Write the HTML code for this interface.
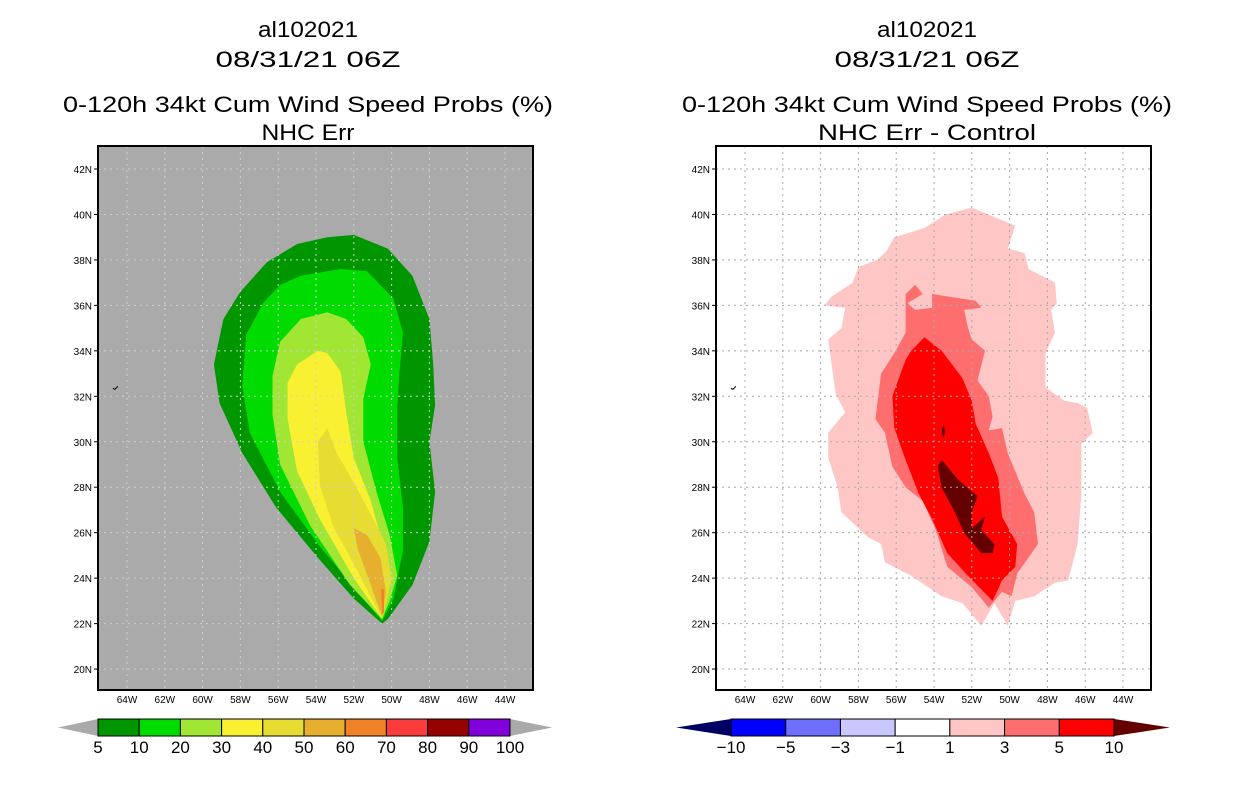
<!DOCTYPE html>
<html><head><meta charset="utf-8"><style>
html,body{margin:0;padding:0;background:#fff;}
svg{display:block;font-family:"Liberation Sans",sans-serif;}
</style></head><body>
<svg id="root" width="1236" height="800" viewBox="0 0 1236 800" xmlns="http://www.w3.org/2000/svg">
<g id="titles" font-size="22" text-anchor="middle" fill="#000">
<text x="308" y="37" textLength="100" lengthAdjust="spacingAndGlyphs">al102021</text>
<text x="308" y="67" textLength="185" lengthAdjust="spacingAndGlyphs">08/31/21 06Z</text>
<text x="308" y="112" textLength="490" lengthAdjust="spacingAndGlyphs">0-120h 34kt Cum Wind Speed Probs (%)</text>
<text x="308" y="140" textLength="93" lengthAdjust="spacingAndGlyphs">NHC Err</text>
<text x="927" y="37" textLength="100" lengthAdjust="spacingAndGlyphs">al102021</text>
<text x="927" y="67" textLength="185" lengthAdjust="spacingAndGlyphs">08/31/21 06Z</text>
<text x="927" y="112" textLength="490" lengthAdjust="spacingAndGlyphs">0-120h 34kt Cum Wind Speed Probs (%)</text>
<text x="927" y="140" textLength="218" lengthAdjust="spacingAndGlyphs">NHC Err - Control</text>
</g>
<g id="left"></g>
<g id="right"></g>
<g id="cbars"></g>
</svg>
<script>
// ---- data (lon in degrees W, lat in degrees N) ----
const latTicks = [20,22,24,26,28,30,32,34,36,38,40,42];
const lonTicks = [64,62,60,58,56,54,52,50,48,46,44];
const leftLevels = ["5","10","20","30","40","50","60"];
const leftColors = ["#009600","#00dc00","#a0e632","#faf032","#e6dc32","#e6af2d","#f08228"];
const leftP5 = [[52.0,39.1],[50.2,38.5],[48.9,37.3],[48.0,35.4],[47.8,33.4],[47.7,31.6],[48.0,30.0],[47.7,27.8],[48.0,25.6],[48.9,23.7],[50.2,22.2],[50.5,22.0],[52.0,23.1],[53.9,24.9],[56.1,27.1],[57.9,29.5],[59.1,31.7],[59.4,33.4],[58.9,35.4],[58.0,36.6],[56.6,37.9],[55.0,38.7],[53.4,39.0]];
const leftP10 = [[54.8,37.3],[52.7,37.6],[51.3,37.5],[49.9,36.3],[49.4,34.8],[49.6,32.9],[49.7,31.5],[49.7,29.3],[49.4,27.1],[49.4,25.2],[49.9,23.1],[50.5,22.1],[51.8,23.4],[53.9,25.5],[55.9,27.8],[57.5,30.4],[57.9,32.5],[57.7,34.7],[56.8,36.1],[55.9,36.9]];
const leftP20 = [[54.8,35.4],[53.4,35.7],[52.4,35.4],[51.5,34.6],[51.1,33.4],[51.5,31.9],[51.5,30.0],[50.8,27.8],[50.1,25.9],[49.7,24.1],[50.1,23.0],[50.5,22.2],[52.2,23.7],[54.3,26.3],[55.9,29.0],[56.3,31.2],[56.3,32.9],[55.9,34.4]];
const leftP30 = [[53.9,34.0],[53.4,33.9],[52.7,33.1],[52.4,31.3],[52.0,29.3],[51.1,27.4],[50.5,25.6],[50.0,24.0],[50.5,22.2],[52.0,24.0],[53.8,26.6],[55.0,28.7],[55.5,31.0],[55.5,32.6],[55.0,33.4]];
const leftP40 = [[53.4,30.6],[52.9,29.5],[52.0,28.2],[51.1,26.8],[50.3,25.5],[50.0,24.0],[50.5,22.2],[51.8,24.3],[53.1,26.3],[53.8,28.1],[53.9,30.0]];
const leftP50 = [[52.0,26.2],[51.3,25.9],[50.6,24.9],[50.3,23.4],[50.5,22.3],[51.1,23.7],[51.8,25.3]];
const leftP60 = [[50.55,23.5],[50.4,23.5],[50.4,22.5],[50.5,22.4]];
const rightLevels = ["1","3","5","10"];
const rightColors = ["#ffc6c6","#ff6e6e","#ff0000","#640000"];
const rightP1 = [[52.0,40.3],[49.7,39.5],[50.1,38.5],[49.2,38.3],[49.0,37.6],[47.6,37.0],[47.5,36.1],[47.8,35.8],[47.6,34.8],[48.1,33.9],[48.1,32.4],[47.1,31.8],[46.4,31.7],[45.9,31.5],[45.6,30.4],[46.2,29.9],[46.2,27.7],[46.4,25.5],[46.9,23.9],[47.6,23.8],[48.7,23.2],[49.7,23.0],[50.1,21.9],[50.8,22.9],[51.5,21.9],[52.5,22.9],[53.6,23.2],[55.2,24.1],[56.6,24.7],[56.8,25.5],[57.5,25.8],[58.9,26.9],[59.1,28.0],[59.6,29.3],[59.6,30.4],[58.7,31.3],[59.2,32.1],[59.6,34.5],[58.9,35.0],[58.7,35.9],[59.8,36.0],[59.4,36.4],[58.3,37.0],[58.0,37.7],[57.0,38.0],[56.5,38.4],[56.1,39.0],[54.5,39.4],[53.4,40.0]];
const rightP3 = [[54.1,36.5],[51.8,36.2],[51.5,35.9],[52.4,35.8],[52.2,35.0],[52.0,34.5],[51.3,34.0],[51.7,32.7],[51.1,32.0],[50.9,31.1],[51.1,30.5],[50.4,30.6],[50.1,29.5],[49.2,27.7],[48.7,26.9],[48.5,25.5],[49.6,24.2],[49.9,23.2],[50.4,23.4],[51.1,22.7],[52.0,23.6],[53.3,24.5],[53.9,26.1],[54.6,27.4],[55.5,28.0],[56.2,28.9],[56.6,30.4],[57.1,31.0],[56.8,33.0],[56.1,33.9],[55.5,34.8],[55.5,36.5],[55.0,36.9],[54.6,36.5],[55.4,36.1],[55.0,35.8],[54.1,35.9]];
const rightP5 = [[54.5,34.6],[53.6,34.0],[52.5,32.8],[52.0,31.8],[51.8,30.8],[51.1,29.5],[50.6,28.4],[50.4,26.7],[49.6,25.5],[49.7,24.5],[50.4,23.9],[50.9,23.0],[52.2,24.1],[53.3,25.1],[54.1,26.6],[54.8,27.7],[55.5,29.2],[56.1,30.6],[56.2,32.0],[55.9,32.7],[55.5,33.6],[55.2,34.0]];
const rightP10 = [[53.6,29.2],[52.7,28.3],[51.7,27.6],[52.0,26.9],[52.0,26.2],[51.3,26.7],[51.5,26.1],[50.8,25.5],[50.9,25.1],[51.5,25.1],[52.4,26.0],[52.9,26.9],[53.6,28.0],[53.8,28.9]];
const rightP10b = [[53.5,30.75],[53.4,30.45],[53.5,30.15],[53.6,30.45]];
const leftBarLabels = ["5","10","20","30","40","50","60","70","80","90","100"];
const leftBarColors = ["#009600","#00dc00","#a0e632","#faf032","#e6dc32","#e6af2d","#f08228","#fa3c3c","#960000","#8200dc"];
const rightBarLabels = ["\u221210","\u22125","\u22123","\u22121","1","3","5","10"];
const rightBarColors = ["#0000ff","#6e6eff","#c8c8ff","#ffffff","#ffc6c6","#ff6e6e","#ff0000"];

const NS = "http://www.w3.org/2000/svg";
function mk(tag, attrs, parent){const e=document.createElementNS(NS,tag);for(const k in attrs)e.setAttribute(k,attrs[k]);parent.appendChild(e);return e;}
function drawMap(g, x0, bg, gridCol, polys, colors, names){
  const X0=x0, x64=x0+29;
  const xs = lon => x64 + (64-lon)*18.9;
  const ys = lat => 169 + (42-lat)*22.73;
  const bgr = mk("rect",{x:X0,y:146,width:435,height:544,fill:bg},g);
  
  
  polys.forEach((p,i)=>{
    const el = mk("polygon",{points:p.map(q=>xs(q[0]).toFixed(1)+","+ys(q[1]).toFixed(1)).join(" "),fill:colors[i]},g);
    
    
  });
  lonTicks.forEach(l=>{
    const x=xs(l);
    const gl = mk("line",{x1:x,y1:146,x2:x,y2:690,stroke:gridCol,"stroke-width":1,"stroke-dasharray":"2,4"},g);
    
    
    const t = mk("text",{x:x,y:703,"font-size":10,"text-anchor":"middle"},g);
    t.textContent=l+"W";
    
    
  });
  latTicks.forEach(l=>{
    const y=ys(l);
    const gl = mk("line",{x1:X0,y1:y,x2:X0+435,y2:y,stroke:gridCol,"stroke-width":1,"stroke-dasharray":"2,4"},g);
    
    
    mk("line",{x1:X0-4,y1:y,x2:X0,y2:y,stroke:"#000","stroke-width":1},g);
    const t = mk("text",{x:X0-6,y:y+4,"font-size":10,"text-anchor":"end"},g);
    t.textContent=l+"N";
    
    
  });
  mk("path",{d:`M${xs(64.75)},${ys(32.35)} l2,1 l3,-3`,stroke:"#000",fill:"none","stroke-width":1},g);
  const fr = mk("rect",{x:X0,y:146,width:435,height:544,fill:"none",stroke:"#000","stroke-width":2},g);
  
  
}
drawMap(document.getElementById("left"),98,"#aaaaaa","#cfcfcf",
  [leftP5,leftP10,leftP20,leftP30,leftP40,leftP50,leftP60],leftColors,
  ["prob-5","prob-10","prob-20","prob-30","prob-40","prob-50","prob-60"]);
drawMap(document.getElementById("right"),716,"#ffffff","#a8a8a8",
  [rightP1,rightP3,rightP5,rightP10,rightP10b],[rightColors[0],rightColors[1],rightColors[2],rightColors[3],rightColors[3]],
  ["diff-1","diff-3","diff-5","diff-10","diff-10-small"]);

function drawBar(g, x0, x1, tl, tr, colors, labels, lcol, rcol){
  const w=(x1-x0)/colors.length, y0=719, y1=736, ym=727.5;
  const a = mk("polygon",{points:`${tl},${ym} ${x0},${y0} ${x0},${y1}`,fill:lcol},g);
  
  
  const b = mk("polygon",{points:`${tr},${ym} ${x1},${y0} ${x1},${y1}`,fill:rcol},g);
  
  
  colors.forEach((c,i)=>{
    const r = mk("rect",{x:x0+i*w,y:y0,width:w,height:y1-y0,fill:c,stroke:"#000","stroke-width":1},g);
    
    
  });
  labels.forEach((l,i)=>{
    const t = mk("text",{x:x0+i*w,y:753,"font-size":17,"text-anchor":"middle"},g);
    t.textContent=l;
    
    
  });
}
const cb=document.getElementById("cbars");
drawBar(cb,98,510,58,552,leftBarColors,leftBarLabels,"#aaaaaa","#aaaaaa");
drawBar(cb,731,1114,676,1170,rightBarColors,rightBarLabels,"#000064","#640000");
</script>
</body></html>
